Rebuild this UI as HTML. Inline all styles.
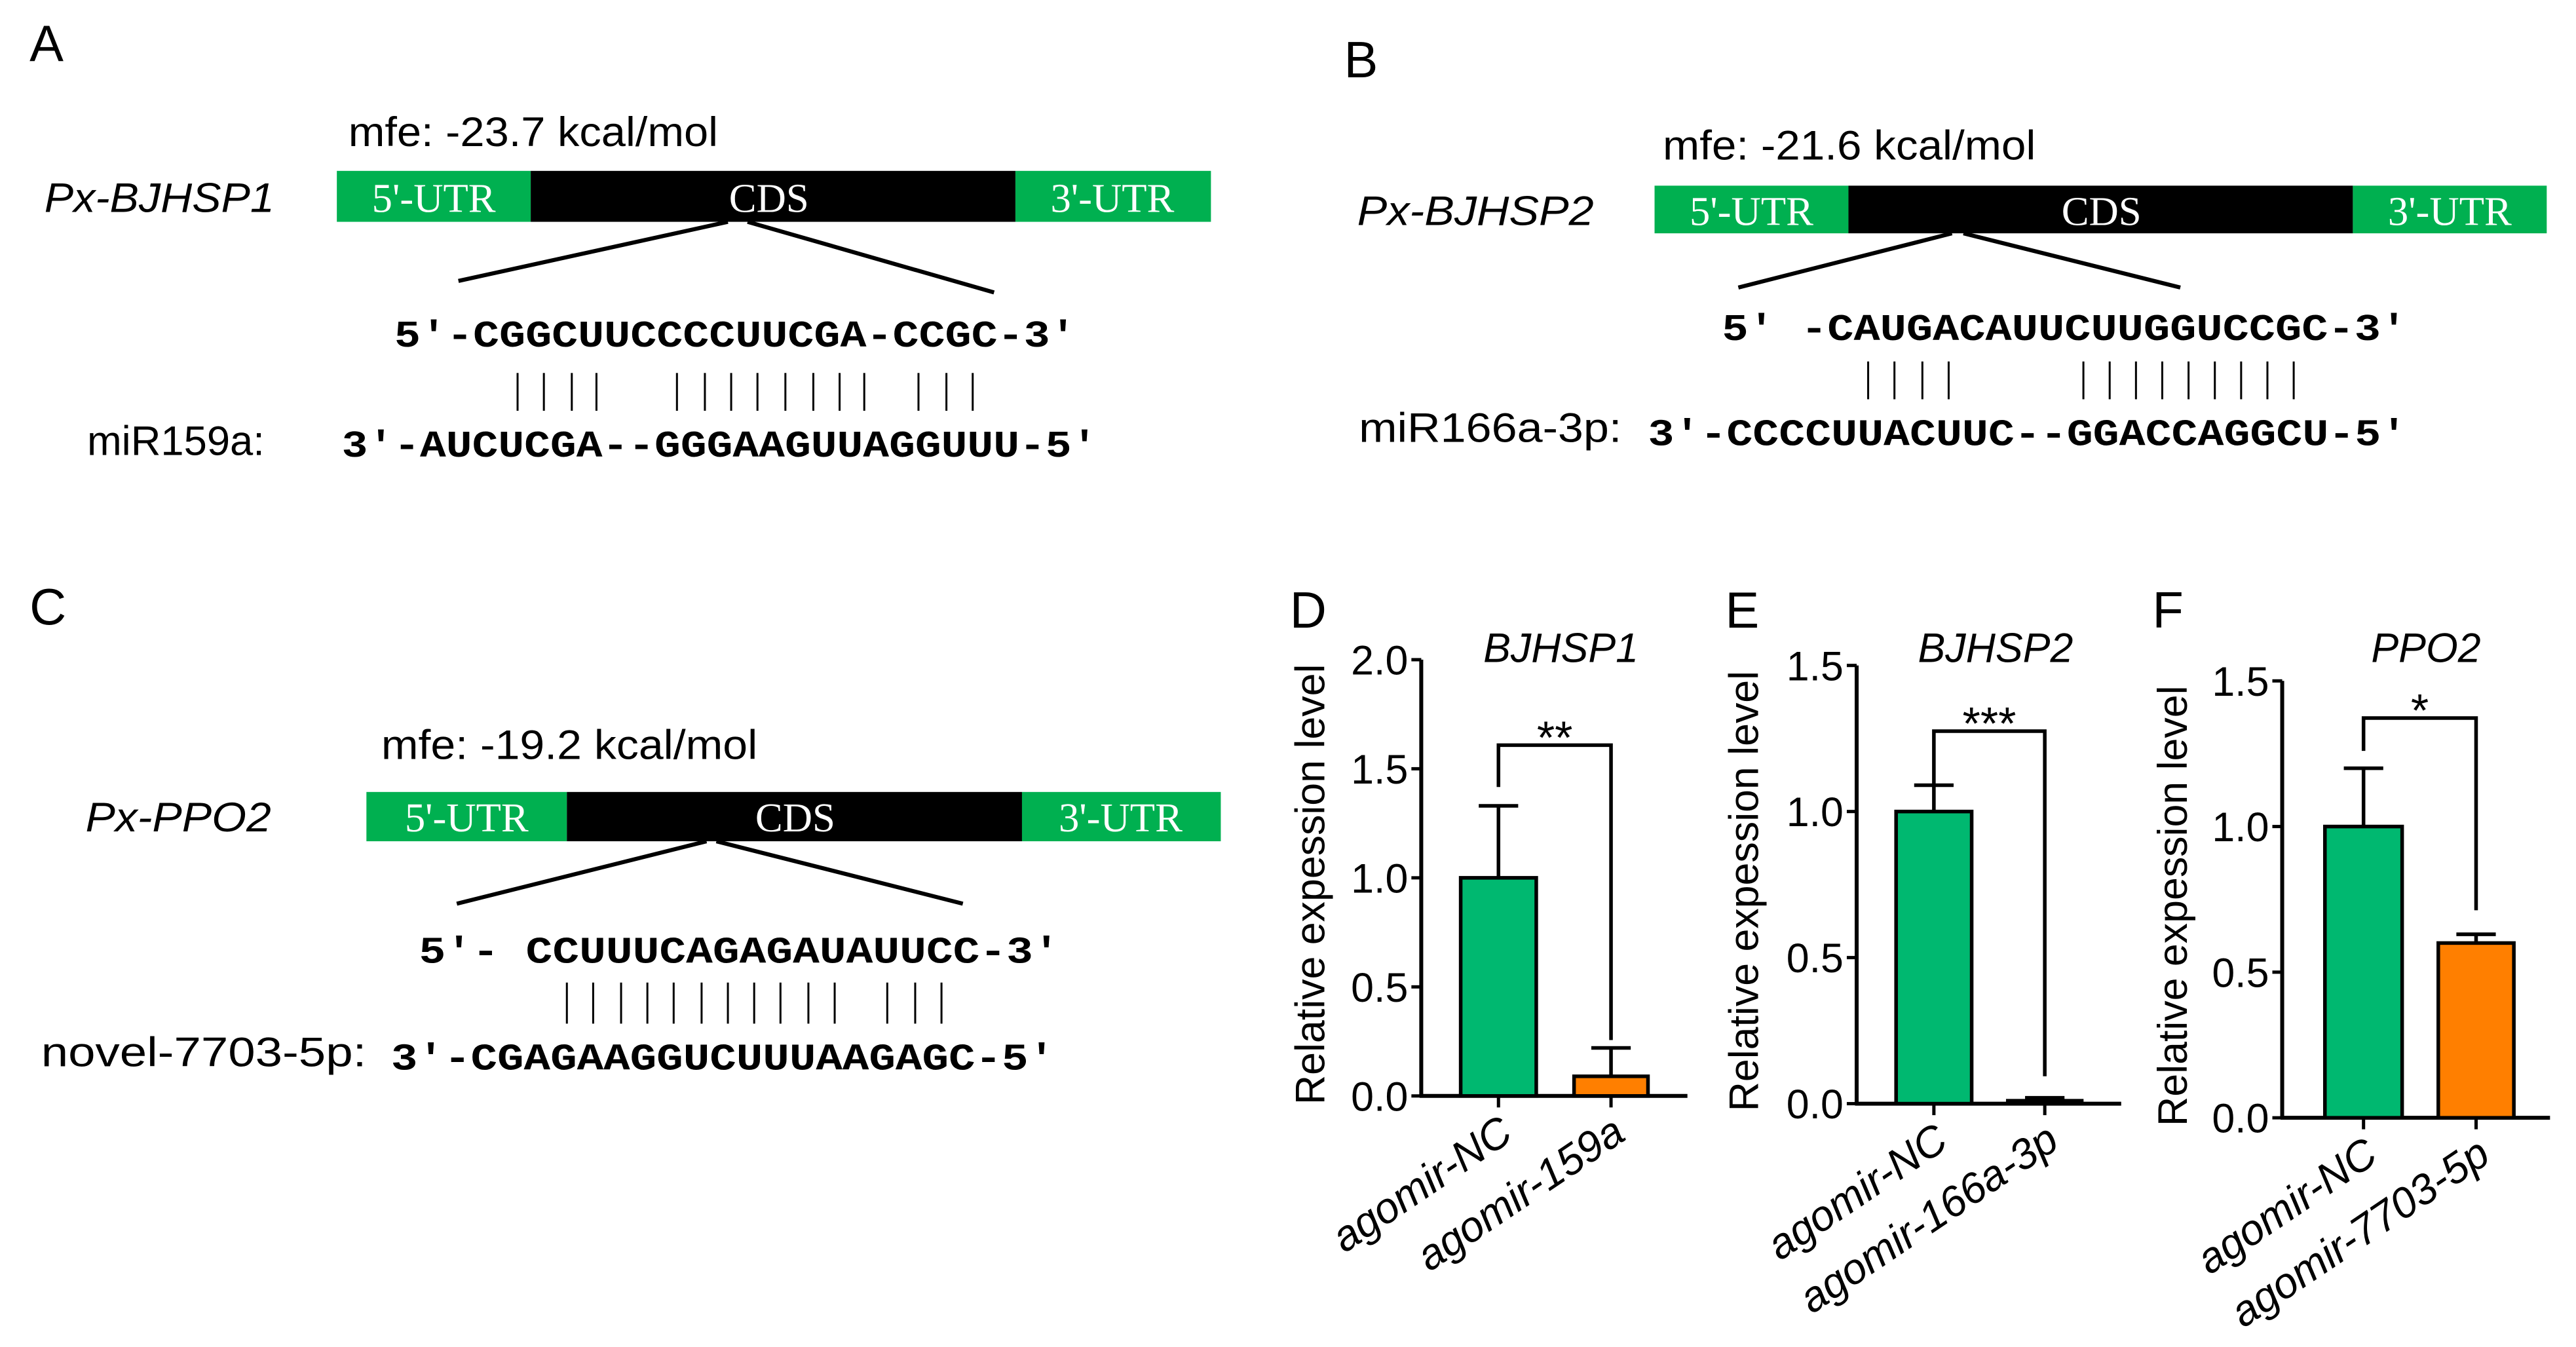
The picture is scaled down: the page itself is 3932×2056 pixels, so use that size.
<!DOCTYPE html>
<html><head><meta charset="utf-8"><style>
html,body{margin:0;padding:0;background:#fff;}
svg{display:block;}
.sans{font-family:"Liberation Sans",sans-serif;}
.mono{font-family:"Liberation Mono",monospace;font-weight:bold;}
.serif{font-family:"Liberation Serif",serif;}
</style></head><body>
<svg id="fig" width="3932" height="2056" viewBox="0 0 1567.8 819.8" xmlns="http://www.w3.org/2000/svg">
<rect width="1567.8" height="819.8" fill="#fff"/>
<!-- Panel A -->
<g>
<text x="18" y="37" class="sans" font-size="31">A</text>
<text x="212" y="89" class="sans" font-size="25" textLength="225" lengthAdjust="spacingAndGlyphs">mfe: -23.7 kcal/mol</text>
<text x="27" y="129" class="sans" font-size="25" font-style="italic" textLength="140" lengthAdjust="spacingAndGlyphs">Px-BJHSP1</text>
<rect x="205" y="104" width="118" height="31" fill="#00b050"/>
<rect x="323" y="104" width="295" height="31" fill="#000"/>
<rect x="618" y="104" width="119" height="31" fill="#00b050"/>
<text x="264" y="129" class="serif" font-size="25" fill="#fff" text-anchor="middle">5'-UTR</text>
<text x="468" y="129" class="serif" font-size="25" fill="#fff" text-anchor="middle">CDS</text>
<text x="677" y="129" class="serif" font-size="25" fill="#fff" text-anchor="middle">3'-UTR</text>
<line x1="443" y1="135" x2="279" y2="171" stroke="#000" stroke-width="2.5"/>
<line x1="455" y1="135" x2="605" y2="178" stroke="#000" stroke-width="2.5"/>
<text x="240" y="211" class="mono" font-size="23" textLength="415" lengthAdjust="spacingAndGlyphs">5'-CGGCUUCCCCUUCGA-CCGC-3'</text>
<g id="pipesA" stroke="#000" stroke-width="1.2"></g>
<text x="53" y="277" class="sans" font-size="25" textLength="108" lengthAdjust="spacingAndGlyphs">miR159a:</text>
<text x="208" y="278" class="mono" font-size="23" textLength="460" lengthAdjust="spacingAndGlyphs">3'-AUCUCGA--GGGAAGUUAGGUUU-5'</text>
</g>
<!-- Panel B -->
<g>
<text x="818" y="47" class="sans" font-size="31">B</text>
<text x="1012" y="97" class="sans" font-size="25" textLength="227" lengthAdjust="spacingAndGlyphs">mfe: -21.6 kcal/mol</text>
<text x="826" y="137" class="sans" font-size="25" font-style="italic" textLength="144" lengthAdjust="spacingAndGlyphs">Px-BJHSP2</text>
<rect x="1007" y="113" width="118" height="29" fill="#00b050"/>
<rect x="1125" y="113" width="307" height="29" fill="#000"/>
<rect x="1432" y="113" width="118" height="29" fill="#00b050"/>
<text x="1066" y="137" class="serif" font-size="25" fill="#fff" text-anchor="middle">5'-UTR</text>
<text x="1279" y="137" class="serif" font-size="25" fill="#fff" text-anchor="middle">CDS</text>
<text x="1491" y="137" class="serif" font-size="25" fill="#fff" text-anchor="middle">3'-UTR</text>
<line x1="1188" y1="142" x2="1058" y2="175" stroke="#000" stroke-width="2.5"/>
<line x1="1195" y1="142" x2="1327" y2="175" stroke="#000" stroke-width="2.5"/>
<text x="1048" y="207" class="mono" font-size="23" textLength="417" lengthAdjust="spacingAndGlyphs">5'  -CAUGACAUUCUUGGUCCGC-3'</text>
<g id="pipesB" stroke="#000" stroke-width="1.2"></g>
<text x="827" y="269" class="sans" font-size="25" textLength="160" lengthAdjust="spacingAndGlyphs">miR166a-3p:</text>
<text x="1003" y="271" class="mono" font-size="23" textLength="462" lengthAdjust="spacingAndGlyphs">3'-CCCCUUACUUC--GGACCAGGCU-5'</text>
</g>
<!-- Panel C -->
<g>
<text x="18" y="380" class="sans" font-size="31">C</text>
<text x="232" y="462" class="sans" font-size="25" textLength="229" lengthAdjust="spacingAndGlyphs">mfe: -19.2 kcal/mol</text>
<text x="52" y="506" class="sans" font-size="25" font-style="italic" textLength="113" lengthAdjust="spacingAndGlyphs">Px-PPO2</text>
<rect x="223" y="482" width="122" height="30" fill="#00b050"/>
<rect x="345" y="482" width="277" height="30" fill="#000"/>
<rect x="622" y="482" width="121" height="30" fill="#00b050"/>
<text x="284" y="506" class="serif" font-size="25" fill="#fff" text-anchor="middle">5'-UTR</text>
<text x="484" y="506" class="serif" font-size="25" fill="#fff" text-anchor="middle">CDS</text>
<text x="682" y="506" class="serif" font-size="25" fill="#fff" text-anchor="middle">3'-UTR</text>
<line x1="430" y1="512" x2="278" y2="550" stroke="#000" stroke-width="2.5"/>
<line x1="436" y1="512" x2="586" y2="550" stroke="#000" stroke-width="2.5"/>
<text x="255" y="586" class="mono" font-size="23" textLength="390" lengthAdjust="spacingAndGlyphs">5'- CCUUUCAGAGAUAUUCC-3'</text>
<g id="pipesC" stroke="#000" stroke-width="1.2"></g>
<text x="25" y="649" class="sans" font-size="25" textLength="198" lengthAdjust="spacingAndGlyphs">novel-7703-5p:</text>
<text x="238" y="651" class="mono" font-size="23" textLength="404" lengthAdjust="spacingAndGlyphs">3'-CGAGAAGGUCUUUAAGAGC-5'</text>
</g>
<g id="charts"></g>
</svg>
<script>
// Chart data
const categoriesD = ["agomir-NC", "agomir-159a"];
const valuesD = [1.0, 0.09];
const errorsD = [0.33, 0.13];
const ticksD = ["0.0", "0.5", "1.0", "1.5", "2.0"];
const categoriesE = ["agomir-NC", "agomir-166a-3p"];
const valuesE = [1.0, 0.01];
const errorsE = [0.09, 0.01];
const ticksE = ["0.0", "0.5", "1.0", "1.5"];
const categoriesF = ["agomir-NC", "agomir-7703-5p"];
const valuesF = [1.0, 0.6];
const errorsF = [0.2, 0.03];
const ticksF = ["0.0", "0.5", "1.0", "1.5"];

const NS = "http://www.w3.org/2000/svg";
function mk(tag, attrs, parent, txt) {
  const e = document.createElementNS(NS, tag);
  for (const k in attrs) e.setAttribute(k, attrs[k]);
  if (txt !== undefined) e.textContent = txt;
  parent.appendChild(e);
  return e;
}
function pipes(id, xs, y1, y2) {
  const g = document.getElementById(id);
  xs.forEach(x => {
    const l = mk("line", {x1: x, x2: x, y1: y1, y2: y2}, g);
    
    
  });
}
pipes("pipesA", [315,331,348,363,412,429,445,461,478,495,511,526,559,576,592], 227, 250);
pipes("pipesB", [1137,1153,1170,1186,1268,1284,1300,1316,1332,1348,1364,1380,1396], 220, 243);
pipes("pipesC", [345,361,378,394,410,427,443,459,475,492,508,540,557,573], 598, 623);

const cfgs = [
  {id:"d", letter:"D", lx:785, title:"BJHSP1", ax:865, x1:1027, base:667, top:401.5, max:2.0, bars:[[889,935],[958,1003]],
   cats:categoriesD, vals:valuesD, errs:errorsD, ticks:ticksD, br:[453.5,479,633], star:"**", ytx:797},
  {id:"e", letter:"E", lx:1050, title:"BJHSP2", ax:1130, x1:1291, base:671.7, top:405, max:1.5, bars:[[1154,1200],[1222,1267]],
   cats:categoriesE, vals:valuesE, errs:errorsE, ticks:ticksE, br:[445,479,655], star:"***", ytx:1061},
  {id:"f", letter:"F", lx:1310, title:"PPO2", ax:1389, x1:1552, base:680.3, top:414.4, max:1.5, bars:[[1415,1462],[1484,1530]],
   cats:categoriesF, vals:valuesF, errs:errorsF, ticks:ticksF, br:[437,457,554], star:"*", ytx:1322}
];
const colors = ["#00b870", "#ff7f00"];
const root = document.getElementById("charts");
cfgs.forEach(c => {
  const g = mk("g", {}, root);
  
  
  const y = v => c.base - (v / c.max) * (c.base - c.top);
  const lab = mk("text", {x: c.lx, y: 382, "font-size": 31, class: "sans"}, g, c.letter);
  
  
  const cx = (c.bars[0][0] + c.bars[1][1]) / 2 + 4;
  const t = mk("text", {x: cx, y: 403, "font-size": 25, "font-style": "italic", "text-anchor": "middle", class: "sans"}, g, c.title);
  
  
  const mid = (c.base + c.top) / 2;
  const yt = mk("text", {x: 0, y: 0, "font-size": 25, "text-anchor": "middle", class: "sans", transform: `translate(${c.ytx + 9},${mid + 4}) rotate(-90)`}, g, "Relative expession level");
  
  
  const ya = mk("line", {x1: c.ax, x2: c.ax, y1: c.top, y2: c.base, stroke: "#000", "stroke-width": 2.4}, g);
  
  
  const xa = mk("line", {x1: c.ax - 1, x2: c.x1, y1: c.base, y2: c.base, stroke: "#000", "stroke-width": 2.4}, g);
  
  
  c.ticks.forEach(tk => {
    const v = parseFloat(tk);
    const tl = mk("line", {x1: c.ax - 6, x2: c.ax, y1: y(v), y2: y(v), stroke: "#000", "stroke-width": 2}, g);
    
    
    const tt = mk("text", {x: c.ax - 8, y: y(v) + 9, "font-size": 25, "text-anchor": "end", class: "sans"}, g, tk);
    
    
  });
  c.vals.forEach((v, i) => {
    const [bx0, bx1] = c.bars[i];
    const mx = (bx0 + bx1) / 2;
    const e = mk("line", {x1: mx, x2: mx, y1: y(v), y2: y(v + c.errs[i]), stroke: "#000", "stroke-width": 2.2}, g);
    
    
    const ec = mk("line", {x1: mx - 12, x2: mx + 12, y1: y(v + c.errs[i]), y2: y(v + c.errs[i]), stroke: "#000", "stroke-width": 2.2}, g);
    
    
    const r = mk("rect", {x: bx0, y: y(v), width: bx1 - bx0, height: Math.max(c.base - y(v), 0.5), fill: colors[i], stroke: "#000", "stroke-width": 2.2}, g);
    
    
    const xt = mk("line", {x1: mx, x2: mx, y1: c.base, y2: c.base + 7, stroke: "#000", "stroke-width": 2}, g);
    
    
    const cl = mk("text", {x: 0, y: 0, "font-size": 26, "font-style": "italic", "text-anchor": "end", class: "sans", transform: `translate(${mx + 10},${c.base + 26}) rotate(-34)`}, g, c.cats[i]);
    
    
  });
  const m0 = (c.bars[0][0] + c.bars[0][1]) / 2, m1 = (c.bars[1][0] + c.bars[1][1]) / 2;
  const p = mk("path", {d: `M${m0},${c.br[1]} L${m0},${c.br[0]} L${m1},${c.br[0]} L${m1},${c.br[2]}`, fill: "none", stroke: "#000", "stroke-width": 2.2}, g);
  
  
  const s = mk("text", {x: (m0 + m1) / 2, y: c.br[0] + 5, "font-size": 28, "text-anchor": "middle", class: "sans"}, g, c.star);
  
  
});
</script>
</body></html>
